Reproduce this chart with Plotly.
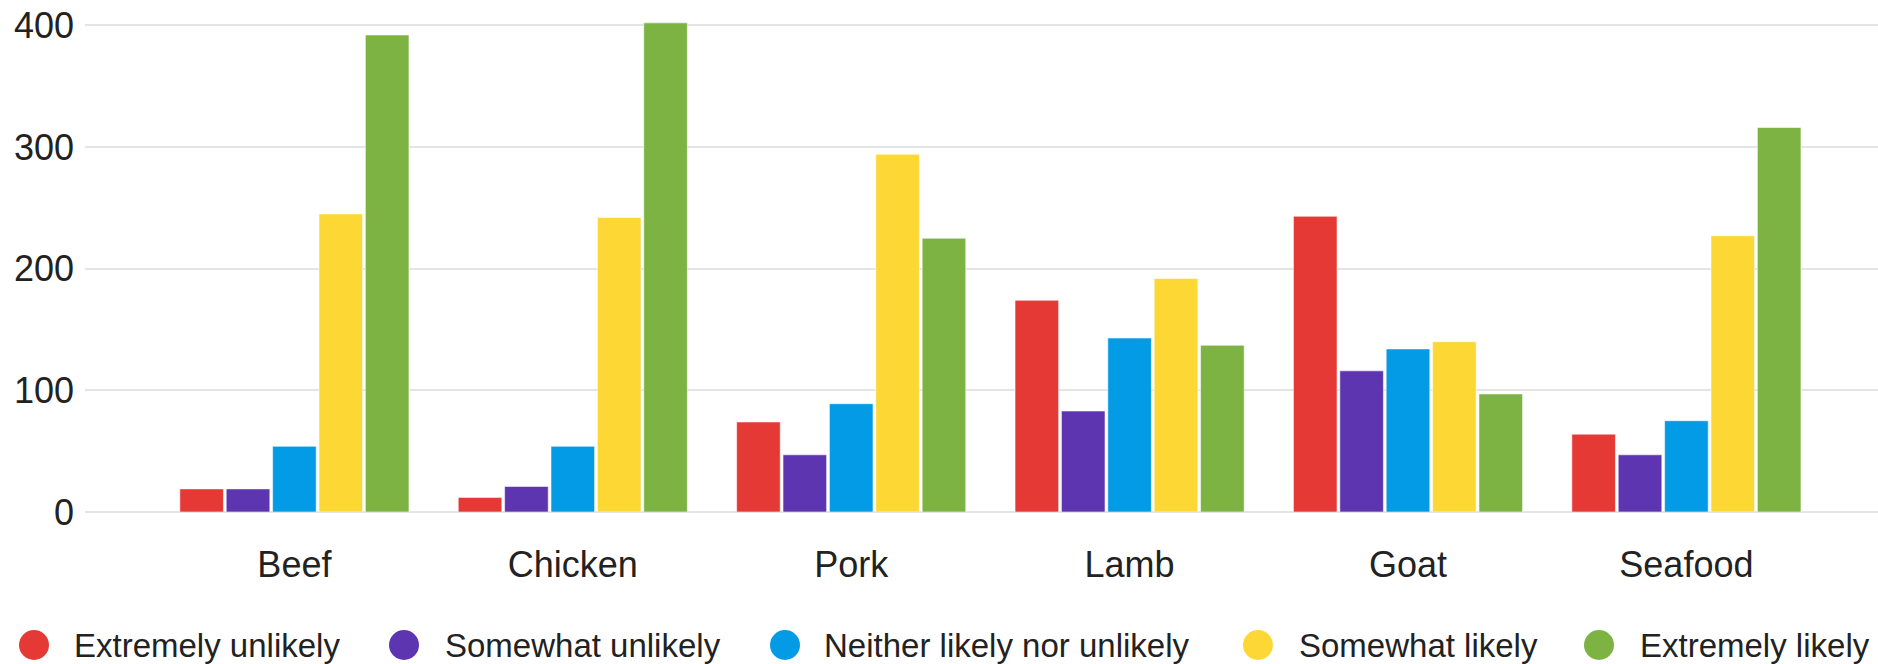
import plotly.graph_objects as go

categories = ["Beef", "Chicken", "Pork", "Lamb", "Goat", "Seafood"]
series_names = ["Extremely unlikely", "Somewhat unlikely", "Neither likely nor unlikely",
                "Somewhat likely", "Extremely likely"]
extremely_unlikely = [19, 12, 74, 174, 243, 64]
somewhat_unlikely = [19, 21, 47, 83, 116, 47]
neither = [54, 54, 89, 143, 134, 75]
somewhat_likely = [245, 242, 294, 192, 140, 227]
extremely_likely = [392, 402, 225, 137, 97, 316]
y_ticks = [0, 100, 200, 300, 400]

series_values = [extremely_unlikely, somewhat_unlikely, neither, somewhat_likely, extremely_likely]
colors = ["#E53935", "#5E35B1", "#039BE5", "#FDD835", "#7CB342"]

FONT = "Liberation Sans, Arial, sans-serif"
TEXT = "#222222"

W, H = 1878, 664
ML, MR, MT, MB = 85, 0, 0, 152
PW, PH = W - ML - MR, H - MT - MB

fig = go.Figure()
for name, vals, col in zip(series_names, series_values, colors):
    fig.add_trace(go.Bar(
        x=categories, y=vals, name=name,
        marker=dict(color=col, line=dict(color="rgba(255,255,255,0.55)", width=1)),
        showlegend=False,
    ))

# custom legend (layout decoration): big circles + labels
legend_circle_px = [34, 404, 785, 1258, 1599]
legend_text_px = [72, 443, 822, 1297, 1638]
legend_y_px = 645
ypaper = (PH - (legend_y_px - MT)) / PH
shapes = []
annotations = []
for name, col, cx, tx in zip(series_names, colors, legend_circle_px, legend_text_px):
    shapes.append(dict(
        type="circle", xref="paper", yref="paper",
        xsizemode="pixel", ysizemode="pixel",
        xanchor=(cx - ML) / PW, yanchor=ypaper,
        x0=-15, x1=15, y0=-15, y1=15,
        fillcolor=col, line=dict(width=0),
    ))
    annotations.append(dict(
        text=name, xref="paper", yref="paper",
        x=(tx - ML) / PW, y=ypaper, xanchor="left", yanchor="middle",
        showarrow=False, font=dict(family=FONT, size=33, color=TEXT),
    ))

px_per_unit = (511.7 - 25) / 400.0
ymax = PH / px_per_unit
pitch = 278.4
c0 = 294.4

fig.update_layout(
    width=W, height=H,
    margin=dict(l=ML, r=MR, t=MT, b=MB, pad=0),
    paper_bgcolor="white", plot_bgcolor="white",
    barmode="group", bargap=0.167, bargroupgap=0.06,
    font=dict(family=FONT, color=TEXT),
    showlegend=False,
    shapes=shapes, annotations=annotations,
    xaxis=dict(
        range=[(ML - c0) / pitch, (W - MR - c0) / pitch],
        showgrid=False, zeroline=False, showline=False,
        ticks="", ticklabelstandoff=28,
        tickfont=dict(family=FONT, size=36, color=TEXT),
    ),
    yaxis=dict(
        range=[0, ymax], tickvals=y_ticks,
        showgrid=True, gridcolor="#e4e4e4", gridwidth=2,
        zeroline=True, zerolinecolor="#e4e4e4", zerolinewidth=2,
        showline=False, ticks="", ticklabelstandoff=10,
        tickfont=dict(family=FONT, size=36, color=TEXT),
    ),
)

fig.write_html("out.html")
